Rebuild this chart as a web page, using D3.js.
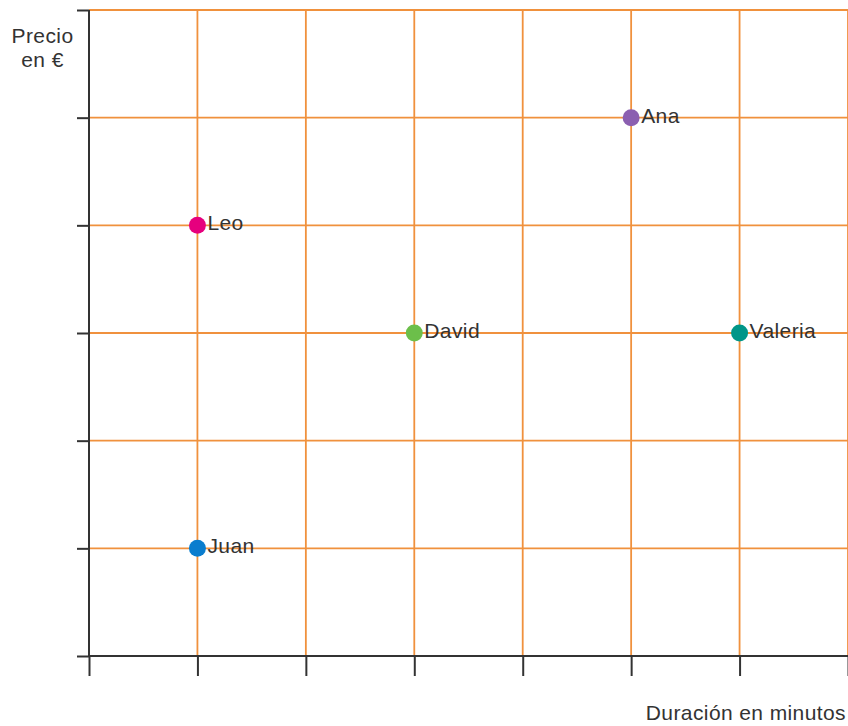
<!DOCTYPE html>
<html>
<head>
<meta charset="utf-8">
<script src="https://cdn.jsdelivr.net/npm/d3@7"></script>
<style>
  html, body { margin: 0; padding: 0; background: #fff; }
  svg { display: block; }
  text { font-family: "Liberation Sans", Arial, sans-serif; fill: #333; letter-spacing: 0.4px; }
</style>
</head>
<body>
<svg id="chart" width="848" height="726"></svg>
<script>
// Data
const names = ["Juan", "Leo", "David", "Ana", "Valeria"];
const duration = [1, 1, 3, 5, 6];   // x: Duración en minutos
const price = [1, 4, 3, 5, 3];      // y: Precio en €
const colors = ["#0a7dce", "#e6007e", "#6cbf4a", "#8b5fb0", "#009688"];
const xTicks = [0, 1, 2, 3, 4, 5, 6, 7];
const yTicks = [0, 1, 2, 3, 4, 5, 6];
const yTitle = ["Precio", "en €"];
const xTitle = "Duración en minutos";

const points = names.map((n, i) => ({ name: n, x: duration[i], y: price[i], color: colors[i] }));

const svg = d3.select("#chart");
const mLeft = 89, mRight = 848, mTop = 10, mBottom = 656;

const x = d3.scaleLinear().domain([0, 7]).range([mLeft, mRight]);
const y = d3.scaleLinear().domain([0, 6]).range([mBottom, mTop]);

const gridColor = "#f0913d";
const axisColor = "#333";

// grid
const grid = svg.append("g");
grid.selectAll("line.v").data(xTicks.filter(d => d > 0)).join("line")
  .attr("x1", d => x(d)).attr("x2", d => x(d))
  .attr("y1", y(6)).attr("y2", y(0))
  .attr("stroke", gridColor).attr("stroke-width", 1.8);
grid.selectAll("line.h").data(yTicks.filter(d => d > 0)).join("line")
  .attr("x1", x(0)).attr("x2", x(7))
  .attr("y1", d => y(d)).attr("y2", d => y(d))
  .attr("stroke", gridColor).attr("stroke-width", 1.8);

// axes
const xAxis = d3.axisBottom(x).tickValues(xTicks).tickSize(20).tickFormat("");
const yAxis = d3.axisLeft(y).tickValues(yTicks).tickSize(12).tickFormat("");

const gx = svg.append("g").attr("transform", `translate(0,${mBottom})`).call(xAxis);
const gy = svg.append("g").attr("transform", `translate(${mLeft},0)`).call(yAxis);
[gx, gy].forEach(g => {
  g.select(".domain").remove();
  g.selectAll(".tick line").attr("stroke", axisColor).attr("stroke-width", 2);
});
// axis lines
svg.append("line").attr("x1", x(0)).attr("x2", x(7)).attr("y1", y(0)).attr("y2", y(0))
  .attr("stroke", axisColor).attr("stroke-width", 2);
svg.append("line").attr("x1", x(0)).attr("x2", x(0)).attr("y1", y(6)).attr("y2", y(0))
  .attr("stroke", axisColor).attr("stroke-width", 2);

// points
svg.append("g").selectAll("circle").data(points).join("circle")
  .attr("cx", d => x(d.x)).attr("cy", d => y(d.y)).attr("r", 8.5)
  .attr("fill", d => d.color);

svg.append("g").selectAll("text").data(points).join("text")
  .attr("x", d => x(d.x) + 10).attr("y", d => y(d.y) + 5)
  .attr("font-size", 21)
  .text(d => d.name);

// titles
const yt = svg.append("text").attr("text-anchor", "middle").attr("font-size", 21);
yTitle.forEach((t, i) => {
  yt.append("tspan").attr("x", 42.5).attr("y", 43 + i * 24).text(t);
});
svg.append("text").attr("text-anchor", "end").attr("x", 846).attr("y", 720)
  .attr("font-size", 21).text(xTitle);
</script>
</body>
</html>
